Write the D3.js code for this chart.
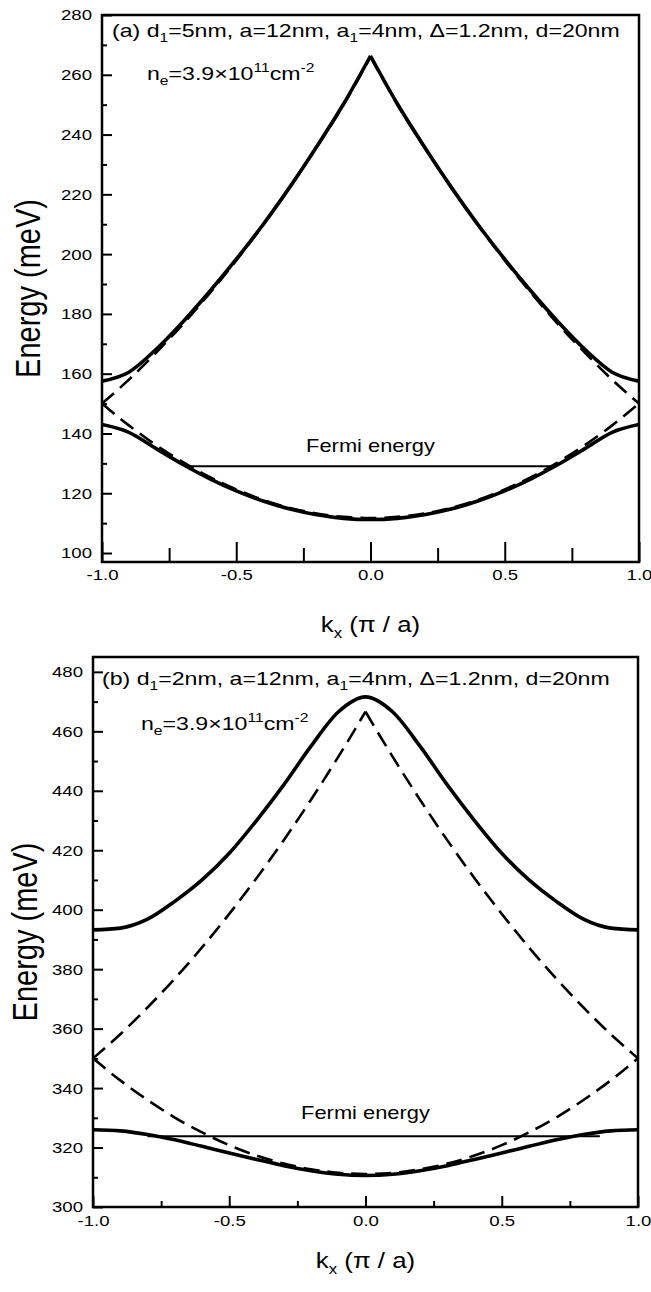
<!DOCTYPE html>
<html><head><meta charset="utf-8">
<script src="https://cdn.jsdelivr.net/npm/d3@7"></script>
<style>
body{margin:0;background:#fff}
svg text{font-family:"Liberation Sans",Arial,Helvetica,sans-serif;fill:#000}
</style>
</head><body>
<svg id="chart" width="651" height="1292"></svg>
<script>
// ---------- data ----------
const kValues = [-1.0,-0.9,-0.8,-0.7,-0.6,-0.5,-0.4,-0.3,-0.2,-0.1,0.0,0.1,0.2,0.3,0.4,0.5,0.6,0.7,0.8,0.9,1.0];

// panel (a)
const aSolidUpper  = [157.5,160.5,168.0,177.2,187.4,198.3,209.9,222.5,236.0,250.3,266.3,250.3,236.0,222.5,209.9,198.3,187.4,177.2,168.0,160.5,157.5];
const aSolidLower  = [143.0,140.4,135.0,129.7,124.9,120.8,117.4,114.7,112.8,111.6,111.2,111.6,112.8,114.7,117.4,120.8,124.9,129.7,135.0,140.4,143.0];
const aDashedUpper = [150.0,158.0,166.9,176.4,186.8,197.9,209.7,222.4,235.8,250.0,266.0,250.0,235.8,222.4,209.7,197.9,186.8,176.4,166.9,158.0,150.0];
const aDashedLower = [150.0,142.7,136.2,130.5,125.5,121.3,117.8,115.1,113.2,112.1,111.7,112.1,113.2,115.1,117.8,121.3,125.5,130.5,136.2,142.7,150.0];

// panel (b)
const bSolidUpper  = [393.2,393.8,396.8,402.8,410.0,419.0,430.0,442.0,455.0,466.5,471.6,466.5,455.0,442.0,430.0,419.0,410.0,402.8,396.8,393.8,393.2];
const bSolidLower  = [326.0,325.6,324.4,322.6,320.4,318.2,316.0,313.9,312.2,311.0,310.6,311.0,312.2,313.9,316.0,318.2,320.4,322.6,324.4,325.6,326.0];
const bDashedUpper = [350.0,358.1,367.1,376.8,387.3,398.6,410.6,423.4,437.0,451.4,466.6,451.4,437.0,423.4,410.6,398.6,387.3,376.8,367.1,358.1,350.0];
const bDashedLower = [350.0,342.6,336.0,330.1,325.1,320.8,317.3,314.6,312.7,311.5,311.1,311.5,312.7,314.6,317.3,320.8,325.1,330.1,336.0,342.6,350.0];

// Fermi levels  [energy, kStart, kEnd]
const fermiA = [129.0, -0.69, 0.69];
const fermiB = [323.8, -0.80, 0.86];

// ticks
const xMajorTicks = [-1.0,-0.5,0.0,0.5,1.0];
const xMinorTicks = [-0.75,-0.25,0.25,0.75];
const yMajorTicksA = [100,120,140,160,180,200,220,240,260,280];
const yMinorTicksA = [110,130,150,170,190,210,230,250,270];
const yMajorTicksB = [300,320,340,360,380,400,420,440,460,480];
const yMinorTicksB = [310,330,350,370,390,410,430,450,470];

// ---------- drawing ----------
const SX = 1.2;            // horizontal stretch of the original figure's text
const svg = d3.select("#chart");
const fmtX = v => d3.format(".1f")(v).replace("\u2212","-");

function panel(cfg){
  const x = d3.scaleLinear().domain([-1,1]).range([cfg.left, cfg.right]);
  const y = d3.scaleLinear().domain(cfg.yDomain).range([cfg.bottom, cfg.top]);
  const g = svg.append("g");

  const yMinor = g.append("g").attr("transform",`translate(${cfg.left},0)`)
     .call(d3.axisLeft(y).tickValues(cfg.yMinor).tickSize(-5).tickFormat(""));
  const yMajor = g.append("g").attr("transform",`translate(${cfg.left},0)`)
     .call(d3.axisLeft(y).tickValues(cfg.yMajor).tickSize(-10).tickPadding(10).tickFormat(d3.format("d")));
  const xMinor = g.append("g").attr("transform",`translate(0,${cfg.bottom})`)
     .call(d3.axisBottom(x).tickValues(xMinorTicks).tickSize(-cfg.xMinorLen).tickFormat(""));
  const xMajor = g.append("g").attr("transform",`translate(0,${cfg.bottom})`)
     .call(d3.axisBottom(x).tickValues(xMajorTicks).tickSize(-cfg.xMajorLen).tickPadding(cfg.xPad).tickFormat(fmtX));
  [yMinor,yMajor,xMinor,xMajor].forEach(a=>{
    a.select(".domain").remove();
    a.selectAll("line").attr("stroke","#000").attr("stroke-width",2);
    a.selectAll("text").attr("font-size",15.5).attr("fill","#000");
  });
  yMajor.selectAll("text").attr("x", -10/SX).attr("transform",`scale(${SX},1)`);
  xMajor.selectAll("text").attr("transform",`scale(${SX},1)`);

  g.append("rect").attr("x",cfg.left).attr("y",cfg.top)
   .attr("width",cfg.right-cfg.left).attr("height",cfg.bottom-cfg.top)
   .attr("fill","none").attr("stroke","#000").attr("stroke-width",2.5);

  const clipId = "clip"+cfg.id;
  svg.append("clipPath").attr("id",clipId).append("rect")
     .attr("x",cfg.left).attr("y",cfg.top).attr("width",cfg.right-cfg.left).attr("height",cfg.bottom-cfg.top);
  const plot = g.append("g").attr("clip-path",`url(#${clipId})`);

  const line = d3.line().x(d=>x(d[0])).y(d=>y(d[1])).curve(d3.curveMonotoneX);
  function draw(vals, dashed, cusp){
    const pts = kValues.map((k,i)=>[k,vals[i]]);
    const parts = cusp ? [pts.filter(p=>p[0]<=0), pts.filter(p=>p[0]>=0)] : [pts];
    parts.forEach(p=>{
      plot.append("path").attr("d",line(p)).attr("fill","none").attr("stroke","#000")
        .attr("stroke-width", dashed?2.6:3.6)
        .attr("stroke-dasharray", dashed?"16,8":null)
        .attr("stroke-linecap","butt").attr("stroke-linejoin","round");
    });
  }
  cfg.curves.forEach(c=>draw(c.v,c.dashed,c.cusp));

  plot.append("line").attr("x1",x(cfg.fermi[1])).attr("x2",x(cfg.fermi[2]))
      .attr("y1",y(cfg.fermi[0])).attr("y2",y(cfg.fermi[0]))
      .attr("stroke","#000").attr("stroke-width",2);

  function stext(px,py,size,anchor,sx){
    return g.append("text").attr("transform",`translate(${px},${py}) scale(${sx||SX},1)`)
      .attr("font-size",size).attr("text-anchor",anchor||"start");
  }
  stext((cfg.left+cfg.right)/2, y(cfg.fermi[0])-cfg.fermiGap, 17.5, "middle", 1.25).text("Fermi energy");

  const AS = 1.25, fs = 18.5, ss = 12.5;
  const t1 = stext(cfg.annX, cfg.annY, fs, "start", AS);
  t1.append("tspan").text(cfg.label+"  d");
  t1.append("tspan").attr("font-size",ss).attr("dy",5).text("1");
  t1.append("tspan").attr("dy",-5).text(cfg.d1+", a=12nm, a");
  t1.append("tspan").attr("font-size",ss).attr("dy",5).text("1");
  t1.append("tspan").attr("dy",-5).text("=4nm, \u0394=1.2nm, d=20nm");

  const t2 = stext(cfg.neX, cfg.neY, fs, "start", AS);
  t2.append("tspan").text("n");
  t2.append("tspan").attr("font-size",ss).attr("dy",5).text("e");
  t2.append("tspan").attr("dy",-5).text("=3.9\u00d710");
  t2.append("tspan").attr("font-size",ss).attr("dy",-8).text("11");
  t2.append("tspan").attr("dy",8).text("cm");
  t2.append("tspan").attr("font-size",ss).attr("dy",-8).text("-2");

  const xt = stext((cfg.left+cfg.right)/2, cfg.xTitleY, 21.5, "middle");
  xt.append("tspan").text("k");
  xt.append("tspan").attr("font-size",14).attr("dy",6).text("x");
  xt.append("tspan").attr("dy",-6).text(" (\u03c0 / a)");

  g.append("text").attr("transform",`translate(${cfg.yTitleX},${(cfg.top+cfg.bottom)/2}) rotate(-90) scale(1,${SX})`)
    .attr("font-size",29).attr("text-anchor","middle").text("Energy (meV)");
}

panel({id:"a", left:102, right:639, top:15, bottom:562, yDomain:[97,280],
  yMajor:yMajorTicksA, yMinor:yMinorTicksA, xMajorLen:20, xMinorLen:14, xPad:7,
  curves:[{v:aDashedUpper,dashed:true,cusp:true},{v:aDashedLower,dashed:true,cusp:false},
          {v:aSolidUpper,dashed:false,cusp:true},{v:aSolidLower,dashed:false,cusp:false}],
  fermi:fermiA, fermiGap:14, label:"(a)", d1:"=5nm", annX:112, annY:37, neX:147, neY:80,
  xTitleY:632, yTitleX:40});

panel({id:"b", left:93, right:638, top:657, bottom:1207, yDomain:[300,485],
  yMajor:yMajorTicksB, yMinor:yMinorTicksB, xMajorLen:11, xMinorLen:6, xPad:8,
  curves:[{v:bDashedUpper,dashed:true,cusp:true},{v:bDashedLower,dashed:true,cusp:false},
          {v:bSolidUpper,dashed:false,cusp:false},{v:bSolidLower,dashed:false,cusp:false}],
  fermi:fermiB, fermiGap:17, label:"(b)", d1:"=2nm", annX:102, annY:685, neX:141, neY:730,
  xTitleY:1268, yTitleX:37});
</script>
</body></html>
